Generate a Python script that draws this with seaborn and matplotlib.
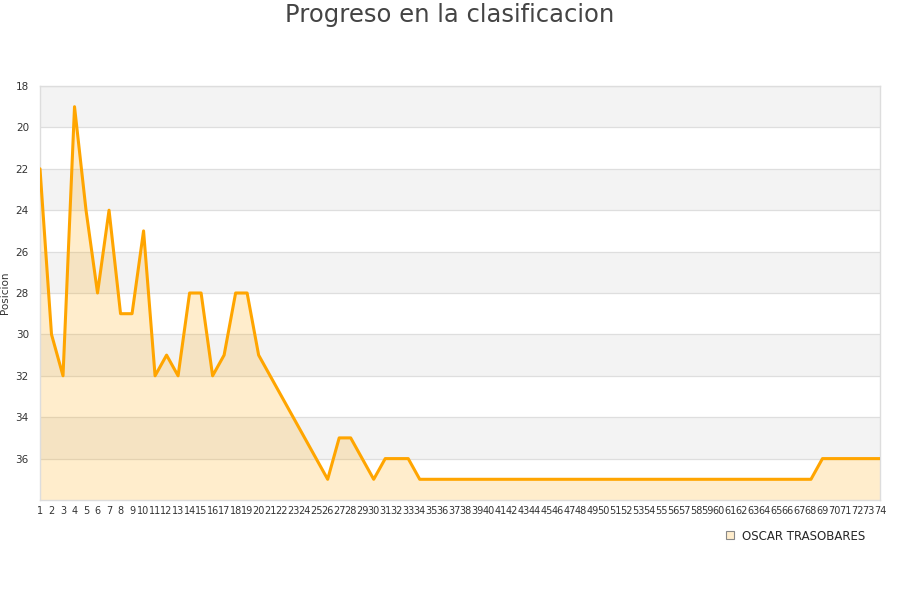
import matplotlib
matplotlib.use("Agg")
import matplotlib.pyplot as plt
import seaborn as sns
import pandas as pd
from matplotlib.lines import Line2D

jornadas = list(range(1, 75))
posiciones = [22, 30, 32, 19, 24, 28, 24, 29, 29, 25,
              32, 31, 32, 28, 28, 32, 31, 28, 28, 31,
              32, 33, 34, 35, 36, 37, 35, 35, 36, 37,
              36, 36, 36, 37] + [37] * 34 + [36] * 6
jugador = "OSCAR TRASOBARES"
titulo = "Progreso en la clasificacion"
y_ticks = [18, 20, 22, 24, 26, 28, 30, 32, 34, 36]

df = pd.DataFrame({"Jornada": jornadas, "Posicion": posiciones})

sns.set_style("white")
plt.rcParams['font.family'] = ['DejaVu Sans']

fig = plt.figure(figsize=(9, 6), dpi=100)
ax = fig.add_axes([40/900, 1-500/600, 840/900, 414/600])

# background bands
for y0 in range(18, 38, 4):
    ax.axhspan(y0, y0 + 2, color="#f3f3f3", zorder=0, lw=0)
for y in range(18, 38, 2):
    ax.axhline(y, color="#dedede", lw=0.9, zorder=1)

ax.fill_between(df["Jornada"], df["Posicion"], 38, color="#ffa500", alpha=0.2, lw=0, zorder=2)
sns.lineplot(data=df, x="Jornada", y="Posicion", ax=ax, color="#ffa500", lw=2.2, zorder=3)

ax.set_xlim(1, 74)
ax.set_ylim(38, 18)
ax.set_yticks(y_ticks)
ax.set_xticks(jornadas)
ax.set_xticklabels([str(j) for j in jornadas], fontsize=7, color="#333333")
ax.tick_params(axis="y", labelsize=7.5, labelcolor="#333333", length=0, pad=8)
ax.tick_params(axis="x", length=0, pad=4)
ax.set_xlabel("")
ax.set_ylabel("Posicion", fontsize=7.5, color="#333333")
ax.yaxis.set_label_coords(-30/840, 0.5)
for s in ax.spines.values():
    s.set_color("#dddddd")
    s.set_linewidth(1)

fig.suptitle(titulo, fontsize=17.5, color="#444444", y=0.995)

handle = Line2D([], [], marker="s", ls="none", markersize=6,
                markerfacecolor="#ffedcc", markeredgecolor="#888888", markeredgewidth=0.8)
fig.legend([handle], [jugador], loc="center", bbox_to_anchor=(795/900, 1-536/600),
           frameon=False, fontsize=8.5, handletextpad=0.5, handlelength=1)

fig.savefig("out.png", dpi=100)
